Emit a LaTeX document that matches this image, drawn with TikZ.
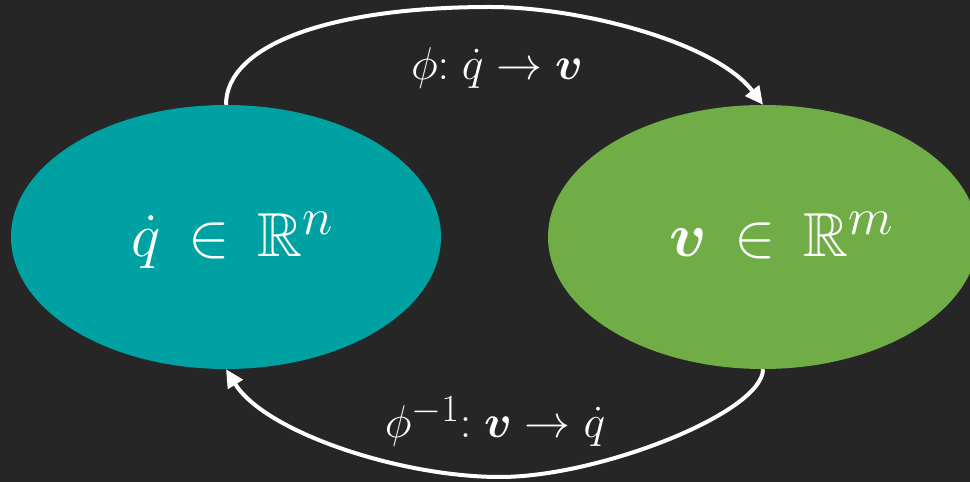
\documentclass[tikz,border=0pt]{standalone}
\usepackage{amsmath,amssymb,bm}
\usetikzlibrary{arrows.meta,shapes.geometric}
\definecolor{bgdark}{RGB}{38,38,38}
\definecolor{tealfill}{RGB}{0,161,163}
\definecolor{greenfill}{RGB}{112,173,71}
\tikzset{
  setnode/.style={ellipse, draw=none, inner sep=0pt,
    minimum width=430pt, minimum height=264pt},
  settext/.style={text=white, font=\Huge, scale=2.5, anchor=base, inner sep=0pt},
  maparrow/.style={draw=white, line width=4pt,
    -{Triangle[length=18pt,width=17pt]}},
  maplabel/.style={text=white, font=\Huge, scale=1.85, anchor=base, inner sep=0pt}
}
\begin{document}
\begin{tikzpicture}[x=1pt,y=1pt]
  \useasboundingbox (0,0) rectangle (970,482);
  \fill[bgdark] (0,0) rectangle (970,482);
  \node[setnode, fill=tealfill] (L) at (226,245) {};
  \node[setnode, fill=greenfill] (R) at (763,245) {};
  \node[settext] (Ltext) at (233,225) {$\dot{q}\,\in\,\mathbb{R}^{n}$};
  \node[settext] (Rtext) at (782,225) {$\bm{v}\,\in\,\mathbb{R}^{m}$};
  \draw[maparrow] (L.north) .. controls +(0,60) and (330,475) .. (490,475)
                  .. controls (580,475) and (715,440) .. (R.north);
  \draw[maparrow] (R.south) .. controls +(0,-43) and (600,5) .. (500,5)
                  .. controls (400,5) and (265,50) .. (L.south);
  \node[maplabel] (top) at (497,402) {$\phi{:}\;\dot{q}\to\bm{v}$};
  \node[maplabel] (bot) at (495,44) {$\phi^{-1}{:}\;\bm{v}\to\dot{q}$};
\end{tikzpicture}
\end{document}
